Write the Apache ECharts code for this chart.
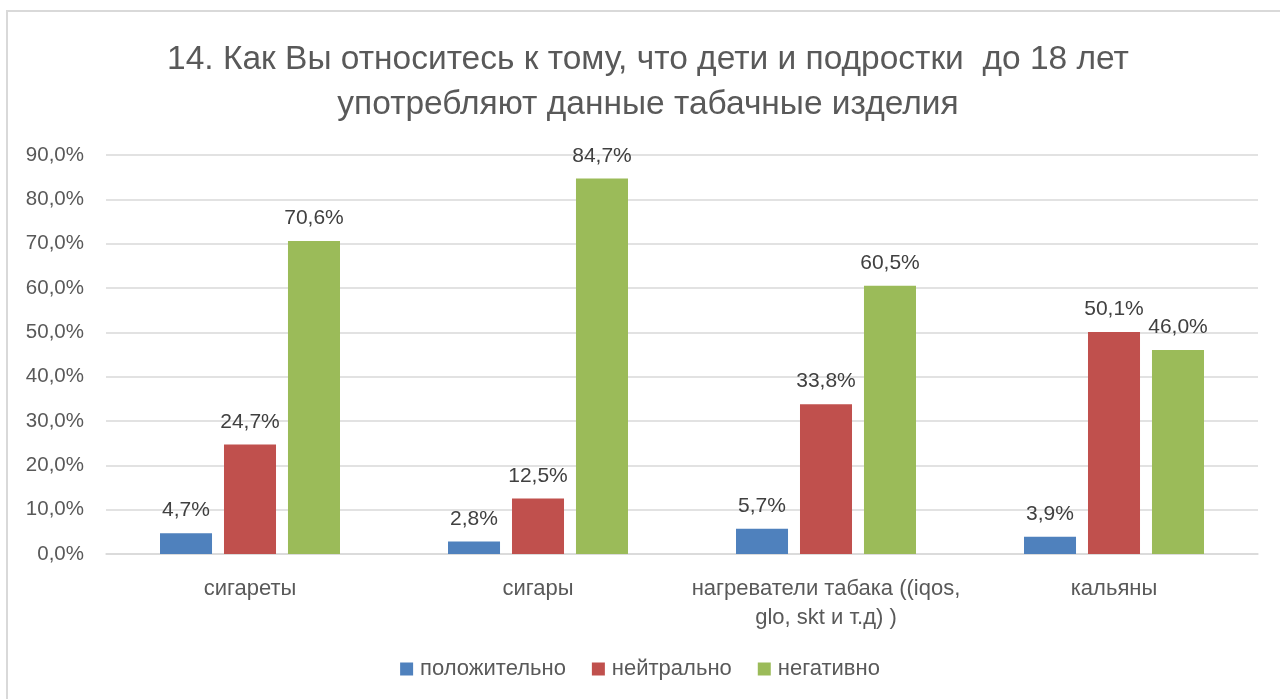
<!DOCTYPE html>
<html>
<head>
<meta charset="utf-8">
<script src="https://cdn.jsdelivr.net/npm/echarts@6/dist/echarts.min.js"></script>
<style>
  html, body { margin: 0; padding: 0; background: #fff; }
  #chart { width: 1280px; height: 699px; }
</style>
</head>
<body>
<div id="chart"></div>
<script>
const titleText = '14. Как Вы относитесь к тому, что дети и подростки  до 18 лет\nупотребляют данные табачные изделия'
const categories = ['сигареты', 'сигары', 'нагреватели табака ((iqos,\nglo, skt и т.д) )', 'кальяны']
const seriesNames = ['положительно', 'нейтрально', 'негативно']
const positiveData = [4.7, 2.8, 5.7, 3.9]
const neutralData = [24.7, 12.5, 33.8, 50.1]
const negativeData = [70.6, 84.7, 60.5, 46.0]
const colors = ['#4F81BD', '#C0504D', '#9BBB59']

const font = 'Liberation Sans'
const fmtPct = v => v.toFixed(1).replace('.', ',') + '%'

const makeSeries = (name, data, color) => ({
  name: name,
  type: 'bar',
  barGap: '23%',
  barCategoryGap: '37.5%',
  itemStyle: { color: color },
  label: {
    show: true,
    position: 'top',
    distance: 12,
    color: '#404040',
    fontFamily: font,
    fontSize: 21,
    formatter: p => fmtPct(p.value)
  },
  data: data
})

const option = {
  animation: false,
  textStyle: { fontFamily: font },
  title: {
    text: titleText,
    left: 643,
    top: 32,
    textAlign: 'center',
    textStyle: {
      color: '#595959',
      fontFamily: font,
      fontSize: 33.5,
      fontWeight: 'normal',
      lineHeight: 45
    }
  },
  legend: {
    top: 653,
    left: 'center',
    itemWidth: 13,
    itemHeight: 13,
    itemGap: 26,
    icon: 'rect',
    textStyle: { color: '#595959', fontFamily: font, fontSize: 22, padding: [0, 0, 0, 2] },
    data: seriesNames
  },
  grid: {
    left: 106,
    right: 22,
    top: 155,
    bottom: 145
  },
  xAxis: {
    type: 'category',
    data: categories,
    axisLine: { lineStyle: { color: '#d9d9d9', width: 1.5 } },
    axisTick: { show: false },
    axisLabel: {
      interval: 0,
      color: '#595959',
      fontFamily: font,
      fontSize: 22,
      margin: 20,
      lineHeight: 29
    }
  },
  yAxis: {
    type: 'value',
    min: 0,
    max: 90,
    interval: 10,
    axisLine: { show: false },
    axisTick: { show: false },
    splitLine: { lineStyle: { color: '#d9d9d9', width: 1.5 } },
    axisLabel: {
      color: '#595959',
      fontFamily: font,
      fontSize: 20.5,
      margin: 22,
      formatter: v => fmtPct(v)
    }
  },
  graphic: [{
    type: 'rect',
    shape: { x: 7, y: 11, width: 1400, height: 800 },
    style: { fill: 'none', stroke: '#d9d9d9', lineWidth: 2 },
    silent: true
  }],
  series: [
    makeSeries(seriesNames[0], positiveData, colors[0]),
    makeSeries(seriesNames[1], neutralData, colors[1]),
    makeSeries(seriesNames[2], negativeData, colors[2])
  ]
}

const myChart = echarts.init(document.getElementById('chart'))
myChart.setOption(option)
window.onresize = function () {
  myChart.resize()
}
</script>
</body>
</html>
